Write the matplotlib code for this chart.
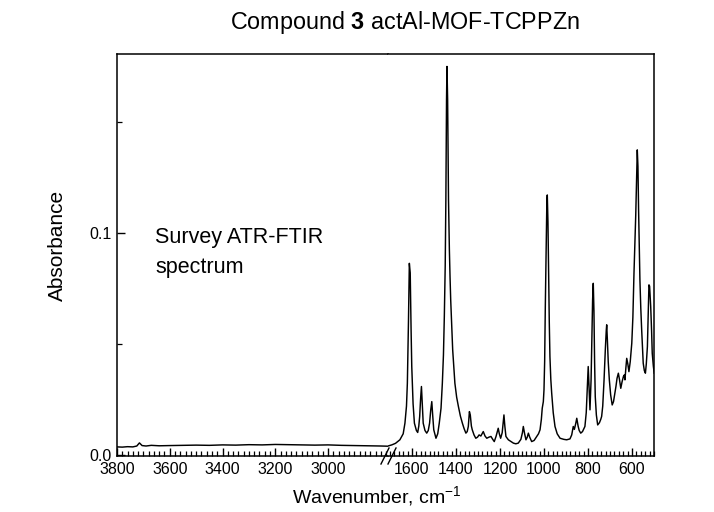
import matplotlib
matplotlib.use("Agg")
import matplotlib.pyplot as plt
from matplotlib.ticker import FixedLocator, MultipleLocator, FormatStrFormatter
from matplotlib.lines import Line2D

plt.rcParams['font.family'] = ['Liberation Sans', 'DejaVu Sans']
plt.rcParams['mathtext.fontset'] = 'custom'
plt.rcParams['mathtext.rm'] = 'Liberation Sans'
plt.rcParams['mathtext.bf'] = 'Liberation Sans:bold'

# ---------------- data ----------------
left_wn = [3800, 3780, 3760, 3740, 3725, 3715, 3705, 3690, 3670, 3640, 3600, 3550,
           3500, 3450, 3400, 3350, 3300, 3250, 3200, 3150, 3100, 3050, 3000, 2950,
           2900, 2850, 2800, 2770]
left_abs = [0.0036, 0.0035, 0.0037, 0.0036, 0.0040, 0.0054, 0.0042, 0.0040, 0.0043,
            0.0041, 0.0042, 0.0043, 0.0044, 0.0043, 0.0045, 0.0044, 0.0046, 0.0045,
            0.0047, 0.0046, 0.0045, 0.0044, 0.0045, 0.0043, 0.0042, 0.0041, 0.0040,
            0.0039]

right_wn = [1709, 1692, 1675, 1655, 1640, 1632, 1625, 1621, 1616, 1612, 1608, 1604,
            1601, 1595, 1589, 1580, 1574, 1569, 1565, 1561, 1557, 1553, 1549, 1541,
            1533, 1526, 1520, 1515, 1510, 1506, 1501, 1491, 1483, 1476, 1468, 1462,
            1457, 1453, 1449, 1446, 1443, 1441, 1438, 1434, 1430, 1427, 1424, 1419,
            1415, 1405, 1397, 1389, 1380, 1371, 1363, 1355, 1349, 1344, 1339, 1335,
            1330, 1326, 1318, 1310, 1302, 1295, 1287, 1276, 1268, 1260, 1250, 1241,
            1233, 1226, 1218, 1212, 1208, 1203, 1197, 1190, 1185, 1182, 1178, 1173,
            1162, 1150, 1139, 1128, 1117, 1105, 1098, 1094, 1088, 1082, 1076, 1071,
            1065, 1056, 1045, 1033, 1025, 1018, 1012, 1008, 1003, 1000, 997, 994,
            990, 987, 985, 982, 979, 976, 973, 969, 965, 958, 950, 940,
            927, 910, 897, 882, 874, 867, 862, 856, 851, 845, 840, 833,
            825, 820, 814, 808, 803, 799, 795, 791, 788, 786, 782, 779,
            776, 773, 770, 767, 762, 756, 748, 742, 738, 733, 727, 721,
            717, 715, 712, 708, 703, 697, 690, 684, 679, 673, 668, 662,
            657, 651, 645, 639, 635, 632, 628, 624, 619, 614, 608, 601,
            596, 591, 587, 583, 579, 576, 573, 570, 567, 564, 560, 556,
            552, 549, 544, 539, 535, 530, 527, 523, 520, 515, 511, 508,
            503, 499]
right_abs = [0.0040, 0.0045, 0.0052, 0.0068, 0.0095, 0.0143, 0.0220, 0.0323, 0.0600,
             0.0863, 0.0820, 0.0560, 0.0398, 0.0230, 0.0143, 0.0110, 0.0101, 0.0130,
             0.0173, 0.0250, 0.0308, 0.0230, 0.0143, 0.0110, 0.0098, 0.0110, 0.0143,
             0.0200, 0.0240, 0.0180, 0.0113, 0.0075, 0.0095, 0.0143, 0.0210, 0.0323,
             0.0450, 0.0623, 0.0850, 0.1150, 0.1600, 0.1750, 0.1600, 0.1150, 0.0923,
             0.0800, 0.0698, 0.0570, 0.0473, 0.0323, 0.0260, 0.0218, 0.0175, 0.0143,
             0.0118, 0.0098, 0.0105, 0.0128, 0.0195, 0.0180, 0.0130, 0.0113, 0.0090,
             0.0075, 0.0080, 0.0090, 0.0085, 0.0105, 0.0085, 0.0075, 0.0080, 0.0083,
             0.0070, 0.0060, 0.0083, 0.0105, 0.0120, 0.0095, 0.0075, 0.0100, 0.0150,
             0.0180, 0.0130, 0.0083, 0.0068, 0.0060, 0.0053, 0.0050, 0.0053, 0.0070,
             0.0100, 0.0128, 0.0095, 0.0068, 0.0080, 0.0098, 0.0080, 0.0060, 0.0065,
             0.0083, 0.0095, 0.0113, 0.0160, 0.0210, 0.0240, 0.0293, 0.0420, 0.0668,
             0.0950, 0.1140, 0.1171, 0.1050, 0.0818, 0.0600, 0.0443, 0.0340, 0.0278,
             0.0190, 0.0128, 0.0095, 0.0075, 0.0070, 0.0068, 0.0072, 0.0090, 0.0128,
             0.0115, 0.0140, 0.0165, 0.0130, 0.0110, 0.0098, 0.0105, 0.0115, 0.0128,
             0.0190, 0.0300, 0.0398, 0.0300, 0.0203, 0.0280, 0.0338, 0.0550, 0.0700,
             0.0773, 0.0650, 0.0420, 0.0263, 0.0180, 0.0135, 0.0145, 0.0160, 0.0173,
             0.0220, 0.0338, 0.0480, 0.0560, 0.0586, 0.0520, 0.0420, 0.0338, 0.0270,
             0.0225, 0.0240, 0.0270, 0.0308, 0.0345, 0.0368, 0.0340, 0.0300, 0.0330,
             0.0353, 0.0360, 0.0338, 0.0390, 0.0435, 0.0410, 0.0375, 0.0420, 0.0503,
             0.0620, 0.0818, 0.0950, 0.1080, 0.1250, 0.1374, 0.1300, 0.1100, 0.0950,
             0.0788, 0.0660, 0.0563, 0.0480, 0.0413, 0.0380, 0.0368, 0.0410, 0.0488,
             0.0600, 0.0766, 0.0760, 0.0668, 0.0560, 0.0458, 0.0400, 0.0368]

left_ticks = [3800, 3600, 3400, 3200, 3000]
right_ticks = [1600, 1400, 1200, 1000, 800, 600]
y_ticks = [0.0, 0.1]
y_minor = [0.05, 0.15]

title_pre = "Compound "
title_num = "3"
title_post = " actAl-MOF-TCPPZn"
annotation_lines = ["Survey ATR-FTIR", "spectrum"]

# ---------------- layout ----------------
W, H = 714, 512
fig = plt.figure(figsize=(W / 100, H / 100), dpi=100)
x0, xb, x1 = 117, 388, 654
ytop, ybot = 54, 456
axL = fig.add_axes([x0 / W, 1 - ybot / H, (xb - x0) / W, (ybot - ytop) / H])
axR = fig.add_axes([xb / W, 1 - ybot / H, (x1 - xb) / W, (ybot - ytop) / H], sharey=axL)

lw_sp = 1.1
for ax in (axL, axR):
    for s in ax.spines.values():
        s.set_linewidth(lw_sp)
axL.spines['right'].set_visible(False)
axR.spines['left'].set_visible(False)

axL.plot(left_wn, left_abs, color='black', lw=1.05)
axR.plot(right_wn, right_abs, color='black', lw=1.05)

axL.set_xlim(3800, 2773)
axR.set_xlim(1709, 500)
axL.set_ylim(-0.0005, 0.1806)

axL.xaxis.set_major_locator(FixedLocator(left_ticks))
axL.xaxis.set_minor_locator(MultipleLocator(20))
axR.xaxis.set_major_locator(FixedLocator(right_ticks))
axR.xaxis.set_minor_locator(MultipleLocator(20))
axL.yaxis.set_major_locator(FixedLocator(y_ticks))
axL.yaxis.set_minor_locator(FixedLocator(y_minor))
axL.yaxis.set_major_formatter(FormatStrFormatter('%.1f'))

for ax in (axL, axR):
    ax.tick_params(axis='both', which='major', direction='in', length=6, width=1.0,
                   labelsize=11.5, pad=4)
    ax.tick_params(axis='both', which='minor', direction='in', length=3.5, width=0.9)
axR.tick_params(axis='y', which='both', left=False, right=False, labelleft=False)
axL.tick_params(axis='y', which='both', right=False)

# break marks
for bx in (385, 392):
    fig.add_artist(Line2D([(bx - 4) / W, (bx + 4) / W], [1 - 464 / H, 1 - 448 / H],
                          transform=fig.transFigure, color='black', lw=1.0))

# texts
fig.text(57 / W, 1 - 245 / H, "Absorbance", rotation=90, ha='center', va='center', fontsize=15)
fig.text(377 / W, 1 - 497 / H, "Wavenumber, cm$^{\\mathregular{-1}}$", ha='center', va='center',
         fontsize=14)
fig.text(405 / W, 1 - 22 / H, title_pre + "$\\mathbf{" + title_num + "}$" + title_post,
         ha='center', va='center', fontsize=16.8)
for line, base in zip(annotation_lines, (243, 273)):
    fig.text(155 / W, 1 - base / H, line, ha='left', va='baseline', fontsize=15.5)

fig.savefig("out.png", dpi=100)
